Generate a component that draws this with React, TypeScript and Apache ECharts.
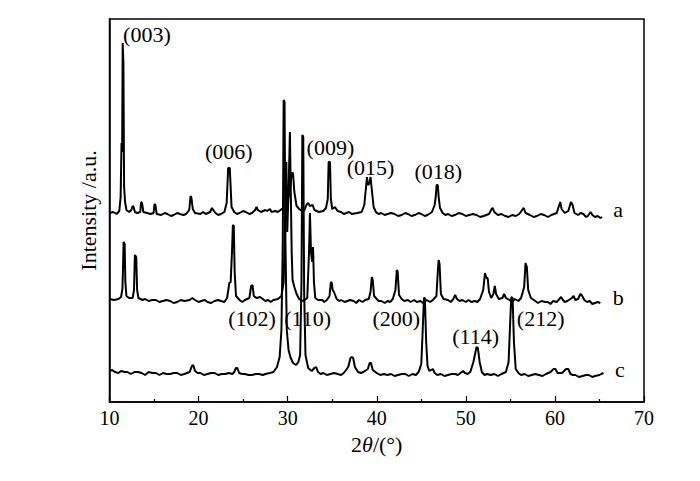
import React, { useEffect, useRef } from "react";
import * as echarts from "echarts";

// 2θ (deg), intensity (a.u., offset traces)
const traceA: [number, number][] = [
  [10.0,189],[10.4,190],[10.8,188],[11.1,191],[11.25,205],[11.35,259],[11.42,250],[11.48,359],[11.56,340],[11.64,215],[11.75,200],[11.9,192],[12.2,190],[12.45,192],[12.6,196],[12.7,195],[12.85,190],[13.1,189],[13.45,190],[13.55,200],[13.65,199],[13.8,190],[14.2,189],[14.6,188],[14.95,189],[15.05,198],[15.15,197],[15.3,188],[15.8,187],[16.2,189],[16.5,188],[16.9,186],[17.2,187],[17.6,189],[17.9,188],[18.3,187],[18.6,188],[18.95,192],[19.1,206],[19.2,204],[19.35,193],[19.6,189],[20.2,188],[20.5,190],[20.8,188],[21.3,190],[21.5,194],[21.65,192],[21.9,189],[22.2,187],[22.5,188],[22.9,190],[23.15,199],[23.25,219],[23.32,234],[23.5,234],[23.58,219],[23.7,195],[24.0,190],[24.3,188],[24.6,189],[25.0,191],[25.3,190],[25.7,188],[26.0,189],[26.35,192],[26.5,195],[26.65,192],[27.0,190],[27.5,192],[27.7,191],[28.0,193],[28.2,190],[28.6,191],[28.9,190],[29.2,192],[29.5,194],[29.8,196],[30.1,205],[30.3,215],[30.45,229],[30.6,229],[30.75,210],[31.0,196],[31.3,193],[31.6,191],[31.9,192],[32.1,197],[32.3,199],[32.5,196],[32.8,197],[33.0,192],[33.5,190],[34.0,191],[34.3,194],[34.5,203],[34.6,240],[34.75,240],[34.85,203],[35.0,193],[35.3,195],[35.6,191],[36.0,190],[36.3,188],[36.6,189],[36.9,190],[37.2,188],[37.8,189],[38.3,190],[38.6,197],[38.8,215],[38.9,225],[39.0,217],[39.15,218],[39.3,225],[39.45,212],[39.65,195],[39.9,190],[40.2,188],[40.5,189],[40.9,187],[41.2,188],[41.6,189],[42.0,188],[42.4,186],[42.8,187],[43.2,189],[43.5,188],[43.9,186],[44.3,187],[44.7,189],[45.0,188],[45.4,186],[45.7,187],[46.2,190],[46.5,197],[46.62,205],[46.72,217],[46.85,217],[46.95,205],[47.1,194],[47.4,189],[47.7,187],[48.0,188],[48.4,186],[48.8,187],[49.2,189],[49.6,188],[50.0,186],[50.4,187],[50.8,188],[51.2,187],[51.6,185],[52.0,186],[52.6,188],[52.9,193],[53.0,194],[53.2,190],[53.6,187],[54.0,188],[54.4,186],[54.8,185],[55.2,187],[55.6,186],[56.0,188],[56.4,193],[56.5,194],[56.7,189],[57.2,187],[57.6,185],[58.0,186],[58.4,188],[58.8,187],[59.2,185],[59.6,187],[60.2,189],[60.45,196],[60.6,200],[60.75,193],[61.1,189],[61.5,191],[61.8,200],[61.95,198],[62.2,189],[62.6,187],[62.9,189],[63.2,188],[63.5,185],[63.7,186],[64.0,190],[64.2,187],[64.5,185],[64.8,186],[65.1,184],[65.3,185]
];

const traceB: [number, number][] = [
  [10.0,103],[10.5,102],[11.0,103],[11.3,105],[11.45,113],[11.52,135],[11.58,160],[11.7,158],[11.78,120],[11.9,106],[12.2,104],[12.6,104],[12.75,112],[12.85,147],[13.0,145],[13.1,112],[13.25,104],[13.7,102],[14.0,103],[14.4,101],[14.8,102],[15.2,102],[15.6,100],[16.0,101],[16.4,102],[16.8,101],[17.2,99],[17.6,100],[18.0,102],[18.4,101],[19.0,102],[19.3,104],[19.6,102],[20.0,100],[20.3,101],[20.7,102],[21.0,100],[21.4,99],[21.8,101],[22.2,102],[22.5,101],[22.9,100],[23.2,104],[23.45,119],[23.6,120],[23.75,150],[23.85,177],[23.95,176],[24.05,130],[24.2,106],[24.6,102],[24.9,100],[25.2,102],[25.7,104],[25.9,116],[26.05,117],[26.2,106],[26.5,104],[26.9,105],[27.2,103],[27.5,101],[27.8,102],[28.1,100],[28.4,102],[28.9,103],[29.3,106],[29.55,120],[29.75,200],[29.85,240],[29.95,170],[30.1,210],[30.25,270],[30.35,210],[30.45,150],[30.55,122],[30.75,115],[31.0,108],[31.3,103],[31.6,101],[31.9,102],[32.2,104],[32.4,150],[32.5,189],[32.62,150],[32.75,140],[32.85,155],[32.95,120],[33.1,104],[33.4,102],[33.9,102],[34.1,100],[34.4,102],[34.7,106],[34.85,120],[34.95,119],[35.05,112],[35.2,110],[35.5,103],[35.8,101],[36.0,102],[36.4,100],[36.7,101],[37.0,102],[37.4,101],[37.7,99],[38.0,102],[38.4,100],[38.7,102],[39.1,103],[39.3,110],[39.45,125],[39.55,122],[39.7,106],[40.0,103],[40.2,101],[40.5,101],[40.9,99],[41.2,101],[41.5,100],[41.8,103],[42.1,112],[42.25,132],[42.35,130],[42.5,107],[42.8,103],[43.1,101],[43.5,102],[43.8,100],[44.2,102],[44.5,100],[44.9,101],[45.2,99],[45.6,102],[46.0,100],[46.3,102],[46.7,106],[46.85,130],[46.95,142],[47.05,138],[47.2,108],[47.5,103],[48.0,102],[48.3,100],[48.6,103],[48.8,107],[49.0,103],[49.3,101],[49.6,102],[50.0,100],[50.3,102],[50.6,100],[51.0,101],[51.3,100],[51.6,103],[51.95,112],[52.15,129],[52.3,124],[52.45,124],[52.6,110],[52.85,104],[53.1,108],[53.25,116],[53.4,108],[53.7,103],[54.1,104],[54.3,108],[54.5,104],[54.9,102],[55.2,100],[55.5,103],[55.9,101],[56.2,104],[56.55,115],[56.7,139],[56.85,135],[57.0,112],[57.3,104],[57.8,101],[58.1,99],[58.5,101],[58.9,100],[59.2,100],[59.5,98],[59.8,101],[60.2,100],[60.5,103],[60.7,105],[60.9,102],[61.1,100],[61.4,101],[61.9,104],[62.1,106],[62.3,102],[62.6,103],[62.85,108],[63.0,107],[63.3,102],[63.6,100],[63.9,101],[64.2,98],[64.5,99],[64.8,100],[65.1,99]
];

const traceC: [number, number][] = [
  [10.0,31],[10.3,32],[10.6,30],[11.0,29],[11.3,31],[11.7,30],[12.0,30],[12.4,28],[12.8,30],[13.2,30],[13.6,29],[14.0,27],[14.4,30],[14.8,29],[15.2,29],[15.6,27],[16.0,29],[16.4,28],[16.8,28],[17.2,29],[17.6,29],[18.0,27],[18.4,28],[18.7,29],[19.0,30],[19.25,36],[19.4,37],[19.6,31],[19.9,29],[20.2,29],[20.6,27],[21.0,28],[21.4,29],[21.8,29],[22.2,27],[22.6,28],[23.0,28],[23.4,29],[23.8,28],[24.0,30],[24.2,34],[24.35,34],[24.55,29],[24.9,28],[25.2,28],[25.6,27],[26.0,27],[26.4,28],[26.8,28],[27.2,27],[27.5,28],[28.0,29],[28.4,30],[28.8,35],[29.1,45],[29.3,72],[29.45,160],[29.55,302],[29.65,300],[29.75,160],[29.9,72],[30.1,52],[30.3,45],[30.6,39],[30.95,37],[31.2,40],[31.4,47],[31.55,120],[31.65,267],[31.75,265],[31.85,110],[32.0,47],[32.3,34],[32.7,31],[33.0,34],[33.2,35],[33.4,30],[33.7,28],[34.0,29],[34.4,27],[34.8,28],[35.2,29],[35.6,28],[36.0,27],[36.3,29],[36.8,35],[37.05,44],[37.2,45],[37.35,44],[37.55,35],[37.9,30],[38.2,29],[38.5,30],[39.0,33],[39.2,39],[39.35,39],[39.55,32],[40.0,29],[40.4,27],[40.8,28],[41.2,27],[41.6,28],[42.0,26],[42.4,27],[42.8,28],[43.2,28],[43.6,26],[44.0,28],[44.4,27],[44.7,30],[45.0,38],[45.15,70],[45.3,104],[45.4,104],[45.55,60],[45.7,36],[45.9,31],[46.1,32],[46.3,33],[46.5,29],[46.8,27],[47.2,28],[47.6,26],[48.0,27],[48.4,28],[48.8,28],[49.1,27],[49.4,29],[49.7,31],[49.9,29],[50.2,28],[50.5,30],[50.85,40],[51.2,55],[51.35,54],[51.55,40],[51.8,30],[52.1,27],[52.4,28],[52.8,27],[53.2,28],[53.6,26],[54.0,28],[54.5,30],[54.8,40],[54.98,80],[55.1,105],[55.25,104],[55.4,60],[55.6,33],[55.9,29],[56.2,27],[56.6,28],[57.0,26],[57.4,27],[57.8,28],[58.2,27],[58.6,26],[59.0,28],[59.5,30],[59.85,33],[60.05,33],[60.3,29],[60.8,29],[61.25,33],[61.5,33],[61.75,28],[62.0,27],[62.3,27],[62.7,25],[63.1,26],[63.5,27],[63.8,27],[64.2,25],[64.5,26],[65.0,27],[65.2,28],[65.45,29]
];

const peakLabels = ["(003)", "(006)", "(009)", "(015)", "(018)", "(102)", "(110)", "(200)", "(114)", "(212)", "a", "b", "c"];
const labelX = [14.2, 23.4, 34.8, 39.3, 46.9, 26.0, 32.25, 42.2, 51.1, 58.4, 67.1, 67.1, 67.3];
const labelY = [368, 251, 255, 235, 231, 84, 84, 84, 66, 84, 193, 105, 33];

const xTicks = { min: 10, max: 70, interval: 10 };
const yRange = { min: 0, max: 383 };

const FONT = '"Liberation Serif", "Times New Roman", serif';

export default function App() {
  const ref = useRef<HTMLDivElement>(null);
  useEffect(() => {
    if (!ref.current) return;
    const chart = echarts.init(ref.current, null, { renderer: "svg" });
    const lineSeries = [traceA, traceB, traceC].map((d) => ({
      type: "line",
      data: d,
      showSymbol: false,
      symbol: "none",
      silent: true,
      lineStyle: { color: "#000", width: 2 },
      z: 2,
    }));
    chart.setOption({
      animation: false,
      backgroundColor: "#fff",
      grid: { left: 109.5, right: 56, top: 19, bottom: 79, show: true, borderColor: "#000", borderWidth: 1.5, backgroundColor: "transparent" },
      xAxis: {
        type: "value",
        min: xTicks.min,
        max: xTicks.max,
        interval: xTicks.interval,
        name: "2{i|θ}/(°)",
        nameLocation: "middle",
        nameGap: 31,
        nameTextStyle: { fontFamily: FONT, fontSize: 22, color: "#000", rich: { i: { fontFamily: FONT, fontSize: 22, fontStyle: "italic", color: "#000" } } },
        axisLine: { lineStyle: { color: "#000", width: 1.5 } },
        axisTick: { inside: true, length: 6, lineStyle: { color: "#000", width: 1.2 } },
        minorTick: { show: true, splitNumber: 2, length: 3, lineStyle: { color: "#000", width: 1.2 } },
        axisLabel: { fontFamily: FONT, fontSize: 20, color: "#000", margin: 6 },
        splitLine: { show: false },
      },
      yAxis: {
        type: "value",
        min: yRange.min,
        max: yRange.max,
        name: "Intensity /a.u.",
        nameLocation: "middle",
        nameGap: 10,
        nameRotate: 90,
        nameTextStyle: { fontFamily: FONT, fontSize: 22, color: "#000" },
        axisLine: { show: true, lineStyle: { color: "#000", width: 1.5 } },
        axisTick: { show: false },
        axisLabel: { show: false },
        splitLine: { show: false },
      },
      series: [
        ...lineSeries,
        {
          type: "scatter",
          symbolSize: 0,
          silent: true,
          z: 3,
          itemStyle: { color: "#000", opacity: 1 },
          data: peakLabels.map((t, i) => ({ name: t, value: [labelX[i], labelY[i]] })),
          label: {
            show: true,
            position: "inside",
            formatter: (p: any) => p.name,
            fontFamily: FONT,
            fontSize: 22,
            color: "#000",
            opacity: 1,
            textBorderWidth: 0,
            textBorderColor: "transparent",
          },
        },
      ],
    });
    return () => chart.dispose();
  }, []);
  return <div ref={ref} style={{ position: "fixed", left: 0, top: 0, width: 700, height: 481, background: "#fff" }} />;
}
